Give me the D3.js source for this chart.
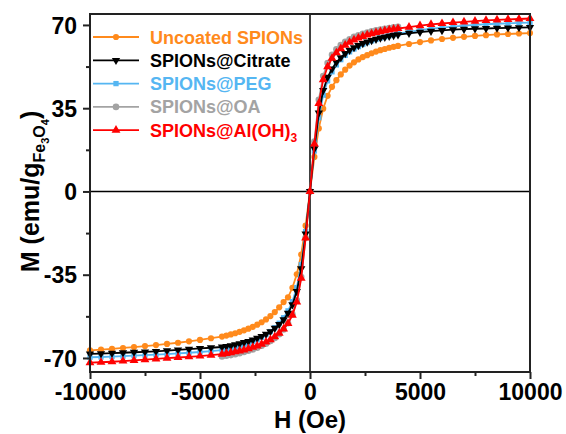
<!DOCTYPE html>
<html><head><meta charset="utf-8">
<script src="https://cdn.jsdelivr.net/npm/d3@7"></script>
<style>
html,body{margin:0;padding:0;background:#fff;}
text{font-family:"Liberation Sans",Arial,sans-serif;font-weight:bold;}
</style></head>
<body><svg id="c" width="566" height="434"></svg>
<script>
// Field values (Oe)
const H = [-10000,-9500,-9000,-8500,-8000,-7500,-7000,-6500,-6000,-5500,-5000,-4500,
 -4000,-3800,-3600,-3400,-3200,-3000,-2800,-2600,-2400,-2200,-2000,-1800,-1600,-1400,-1200,-1000,-800,-600,-400,-200,
 0,200,400,600,800,1000,1200,1400,1600,1800,2000,2200,2400,2600,2800,3000,3200,3400,3600,3800,4000,
 4500,5000,5500,6000,6500,7000,7500,8000,8500,9000,9500,10000];
const H_OA = [-4000,-3800,-3600,-3400,-3200,-3000,-2800,-2600,-2400,-2200,-2000,-1800,-1600,-1400,-1200,-1000,-800,-600,-400,-200,
 0,200,400,600,800,1000,1200,1400,1600,1800,2000,2200,2400,2600,2800,3000,3200,3400,3600,3800,4000];

// Magnetization (emu/g Fe3O4)
const uncoated = [-66.8,-66.5,-66.2,-65.8,-65.4,-65.0,-64.6,-64.1,-63.6,-63.0,-62.4,-61.7,
 -61.0,-60.6,-60.1,-59.6,-59.0,-58.4,-57.7,-56.9,-56.0,-55.0,-53.8,-52.4,-50.7,-48.7,-46.5,-44.5,-40.5,-34.8,-26.5,-14.4,
 0,14.5,26.5,34.8,40.2,44.0,46.8,49.2,51.2,52.9,54.3,55.5,56.5,57.3,58.1,58.8,59.4,59.9,60.4,60.8,61.2,
 62.0,62.8,63.5,64.1,64.6,65.0,65.4,65.7,66.0,66.2,66.4,66.6];
const citrate = [-68.3,-68.2,-68.0,-67.8,-67.6,-67.4,-67.2,-66.9,-66.6,-66.3,-66.0,-65.7,
 -65.4,-65.1,-64.8,-64.4,-64.0,-63.5,-63.0,-62.4,-61.7,-60.9,-60.0,-58.9,-57.5,-55.9,-53.9,-51.2,-47.6,-42.0,-32.5,-17.8,
 0,18.0,33.0,42.5,48.0,51.5,54.3,56.3,58.0,59.4,60.5,61.4,62.2,62.9,63.5,64.0,64.5,64.9,65.3,65.6,65.9,
 66.5,67.0,67.4,67.7,68.0,68.2,68.4,68.5,68.7,68.8,68.9,69.0];
const peg = [-69.7,-69.6,-69.4,-69.2,-69.0,-68.8,-68.6,-68.4,-68.1,-67.8,-67.5,-67.1,
 -66.7,-66.4,-66.0,-65.6,-65.1,-64.5,-63.9,-63.1,-62.3,-61.3,-60.2,-58.9,-57.3,-55.4,-53.1,-50.2,-46.3,-40.4,-30.8,-16.9,
 0,17.0,31.0,40.5,46.5,50.3,53.2,55.4,57.2,58.7,59.9,60.9,61.8,62.6,63.3,63.9,64.5,65.0,65.5,65.9,66.3,
 67.1,67.8,68.4,68.9,69.3,69.7,70.0,70.3,70.5,70.7,70.9,71.0];
const oa = [-69.4,-69.1,-68.8,-68.4,-68.0,-67.5,-67.0,-66.4,-65.7,-64.9,-64.0,-62.9,-61.6,-60.0,-58.0,-55.4,-51.6,-45.8,-36.0,-19.5,
 0,21.0,38.5,48.5,54.0,57.5,59.8,61.5,62.9,64.0,65.0,65.7,66.3,66.8,67.3,67.7,68.1,68.4,68.7,69.0,69.2];
const aloh = [-72.0,-71.8,-71.6,-71.3,-71.0,-70.7,-70.4,-70.1,-69.8,-69.5,-69.2,-68.8,
 -68.4,-68.1,-67.8,-67.4,-67.0,-66.6,-66.1,-65.5,-64.9,-64.2,-63.3,-62.3,-61.1,-59.6,-57.8,-55.5,-52.0,-46.5,-36.5,-19.5,
 0,20.0,37.0,47.0,52.5,56.0,58.3,60.0,61.5,62.7,63.7,64.5,65.2,65.8,66.3,66.8,67.2,67.6,67.9,68.2,68.5,
 69.1,69.7,70.2,70.6,71.0,71.3,71.6,71.9,72.1,72.3,72.5,72.7];

const seriesNames = ["Uncoated SPIONs","SPIONs@Citrate","SPIONs@PEG","SPIONs@OA","SPIONs@Al(OH)3"];
const xTicks = [-10000,-5000,0,5000,10000];
const xMinor = [-7500,-2500,2500,7500];
const yTicks = [-70,-35,0,35,70];
const yMinor = [-52.5,-17.5,17.5,52.5];

const series = [
  {name:seriesNames[0], x:H, y:uncoated, color:"#FF8A1C", sym:d3.symbolCircle, size:30, rot:0},
  {name:seriesNames[3], x:H_OA, y:oa, color:"#A3A3A3", sym:d3.symbolCircle, size:34, rot:0},
  {name:seriesNames[2], x:H, y:peg, color:"#55B6F2", sym:d3.symbolSquare, size:28, rot:0},
  {name:seriesNames[1], x:H, y:citrate, color:"#000000", sym:d3.symbolTriangle, size:30, rot:180},
  {name:seriesNames[4], x:H, y:aloh, color:"#FF0000", sym:d3.symbolTriangle, size:34, rot:0}
];
const legendOrder = [0,3,2,1,4];

const svg = d3.select("#c");
const L=90, R=530, T=14, B=372;
const x = d3.scaleLinear().domain([-10000,10000]).range([L,R]);
const y = d3.scaleLinear().domain([-75.9,74.6]).range([B,T]);

// zero lines
svg.append("line").attr("x1",x(0)).attr("x2",x(0)).attr("y1",T).attr("y2",B).attr("stroke","#000").attr("stroke-width",1.5);
svg.append("line").attr("x1",L).attr("x2",R).attr("y1",y(0)).attr("y2",y(0)).attr("stroke","#000").attr("stroke-width",1.5);

// series
const line = d3.line();
series.forEach(s=>{
  const pts = s.x.map((h,i)=>[x(h), y(s.y[i])]);
  svg.append("path").attr("d",line(pts)).attr("fill","none").attr("stroke",s.color).attr("stroke-width",1.8);
  const sym = d3.symbol().type(s.sym).size(s.size);
  svg.append("g").selectAll("path").data(pts).join("path")
    .attr("d",sym).attr("fill",s.color)
    .attr("transform",d=>`translate(${d[0]},${d[1]}) rotate(${s.rot})`);
});

// frame
svg.append("rect").attr("x",L).attr("y",T).attr("width",R-L).attr("height",B-T)
  .attr("fill","none").attr("stroke","#222").attr("stroke-width",2);

// axes
const fmt = d => String(d);
const xAx = svg.append("g").attr("transform",`translate(0,${B})`)
  .call(d3.axisBottom(x).tickValues(xTicks).tickSize(7).tickPadding(3).tickFormat(fmt));
svg.append("g").attr("transform",`translate(0,${B})`)
  .call(d3.axisBottom(x).tickValues(xMinor).tickSize(4).tickFormat(""));
const yAx = svg.append("g").attr("transform",`translate(${L},0)`)
  .call(d3.axisLeft(y).tickValues(yTicks).tickSize(7).tickPadding(6).tickFormat(fmt));
svg.append("g").attr("transform",`translate(${L},0)`)
  .call(d3.axisLeft(y).tickValues(yMinor).tickSize(4).tickFormat(""));
svg.selectAll(".domain").remove();
svg.selectAll(".tick line").attr("stroke","#222").attr("stroke-width",2);
svg.selectAll(".tick text").attr("font-size",23).attr("fill","#000")
  .style("font-family","'Liberation Sans',Arial,sans-serif").style("font-weight","bold");
xAx.selectAll(".tick text").attr("dy","0.78em");
yAx.selectAll(".tick text").attr("dy","0.36em");

// axis titles
svg.append("text").attr("x",x(0)).attr("y",428).attr("text-anchor","middle")
  .attr("font-size",24).text("H (Oe)");
const yl = svg.append("text").attr("transform",`translate(39,${y(0)}) rotate(-90)`)
  .attr("text-anchor","middle").attr("font-size",25);
yl.append("tspan").text("M (emu/g");
yl.append("tspan").attr("font-size",16).attr("dy",6).text("Fe");
yl.append("tspan").attr("font-size",11).attr("dy",4).text("3");
yl.append("tspan").attr("font-size",16).attr("dy",-4).text("O");
yl.append("tspan").attr("font-size",11).attr("dy",4).text("4");
yl.append("tspan").attr("dy",-10).text(")");

// legend
const lg = svg.append("g");
legendOrder.forEach((si,i)=>{
  const s = series[si];
  const yy = 37 + i*23.3;
  lg.append("line").attr("x1",93).attr("x2",139).attr("y1",yy).attr("y2",yy).attr("stroke",s.color).attr("stroke-width",1.8);
  lg.append("path").attr("d",d3.symbol().type(s.sym).size(s.size)())
    .attr("fill",s.color).attr("transform",`translate(116,${yy}) rotate(${s.rot})`);
  const t = lg.append("text").attr("x",150).attr("y",yy+6.5).attr("font-size",18).attr("fill",s.color);
  if (si===4){
    t.append("tspan").text("SPIONs@Al(OH)");
    t.append("tspan").attr("font-size",12).attr("dy",5).text("3");
  } else t.text(s.name);
});
</script></body></html>
